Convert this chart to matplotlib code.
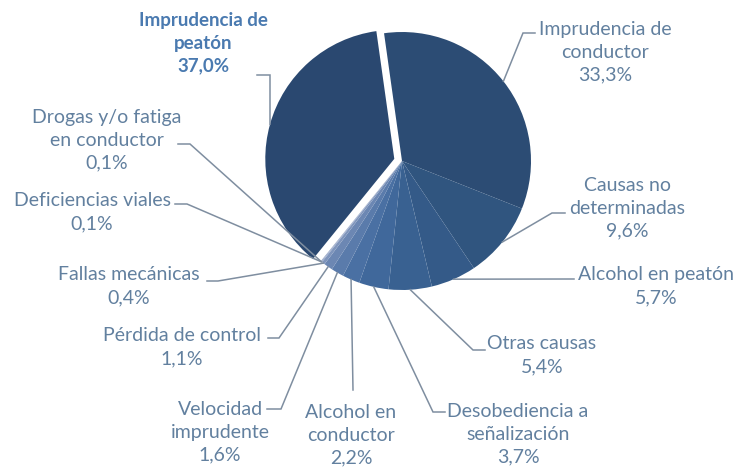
import numpy as np
import matplotlib
matplotlib.use("Agg")
import matplotlib.pyplot as plt

plt.rcParams['font.family'] = ['Lato', 'DejaVu Sans']

# data (clockwise from the top)
causas = [
    "Imprudencia de\nconductor",
    "Causas no\ndeterminadas",
    "Alcohol en peatón",
    "Otras causas",
    "Desobediencia a\nseñalización",
    "Alcohol en\nconductor",
    "Velocidad\nimprudente",
    "Pérdida de control",
    "Fallas mecánicas",
    "Deficiencias viales",
    "Drogas y/o fatiga\nen conductor",
    "Imprudencia de\npeatón",
]
porcentajes = [33.3, 9.6, 5.7, 5.4, 3.7, 2.2, 1.6, 1.1, 0.4, 0.1, 0.1, 37.0]

colores = ["#2c4c74", "#30557f", "#345a88", "#396191", "#40689b", "#4a70a3",
           "#5a7bab", "#6c87b3", "#7f95bc", "#8e9fc3", "#98a8c8", "#2a4870"]

W, H = 739, 469
def img(x, y):
    # pixel position of the reference image -> data coords
    return x, H - y

# label layout: text centre, elbow point, end of leader (image pixels)
text_pos = [(605, 52), (627, 208), (656, 286), (542, 355), (518, 434), (351, 435),
            (220, 432), (182, 347), (129, 286), (92, 212), (107, 140), (203, 43)]
leader = [
    [(523, 33), (535, 33)],
    [(552, 213), (565, 213)],
    [(572, 279), (574, 279)],
    [(473, 350), (485, 350)],
    [(433, 412), (445, 412)],
    [(353, 390), (353, 390)],
    [(281, 409), (267, 409)],
    [(279, 338), (268, 338)],
    [(218, 281), (207, 281)],
    [(187, 204), (175, 204)],
    [(190, 144), (178, 144)],
    [(270, 75), (257, 75)],
]

fig = plt.figure(figsize=(W / 100, H / 100), dpi=100)
ax = fig.add_axes([0, 0, 1, 1])

# explode is in data units (pixels here)
explode = [0] * (len(porcentajes) - 1) + [8]
cx, cy = img(402, 161)
radio = 129
wedges, _ = ax.pie(porcentajes, colors=colores, startangle=98, counterclock=False,
                   center=(cx, cy), radius=radio, explode=explode,
                   wedgeprops=dict(linewidth=0))
ax.set_xlim(0, W)
ax.set_ylim(0, H)
ax.axis("off")

txt_color = "#62809f"
line_color = "#7f8ea0"
for i, w in enumerate(wedges):
    ang = np.deg2rad((w.theta1 + w.theta2) / 2)
    ex = w.center[0] + radio * np.cos(ang)
    ey = w.center[1] + radio * np.sin(ang)
    pts = [(ex, ey)] + [img(*p) for p in leader[i]]
    xs, ys = zip(*pts)
    ax.plot(xs, ys, color=line_color, lw=1.1, solid_joinstyle="miter")

    pct = f"{porcentajes[i]:.1f}".replace(".", ",") + "%"
    tx, ty = img(*text_pos[i])
    bold = i == len(wedges) - 1
    ax.text(tx, ty, causas[i] + "\n" + pct, ha="center", va="center",
            multialignment="center", fontsize=14 if not bold else 13.5,
            linespacing=1.42,
            color="#4a7ab0" if bold else txt_color,
            fontweight="bold" if bold else "normal")

fig.savefig("out.png", dpi=100, facecolor="white")
